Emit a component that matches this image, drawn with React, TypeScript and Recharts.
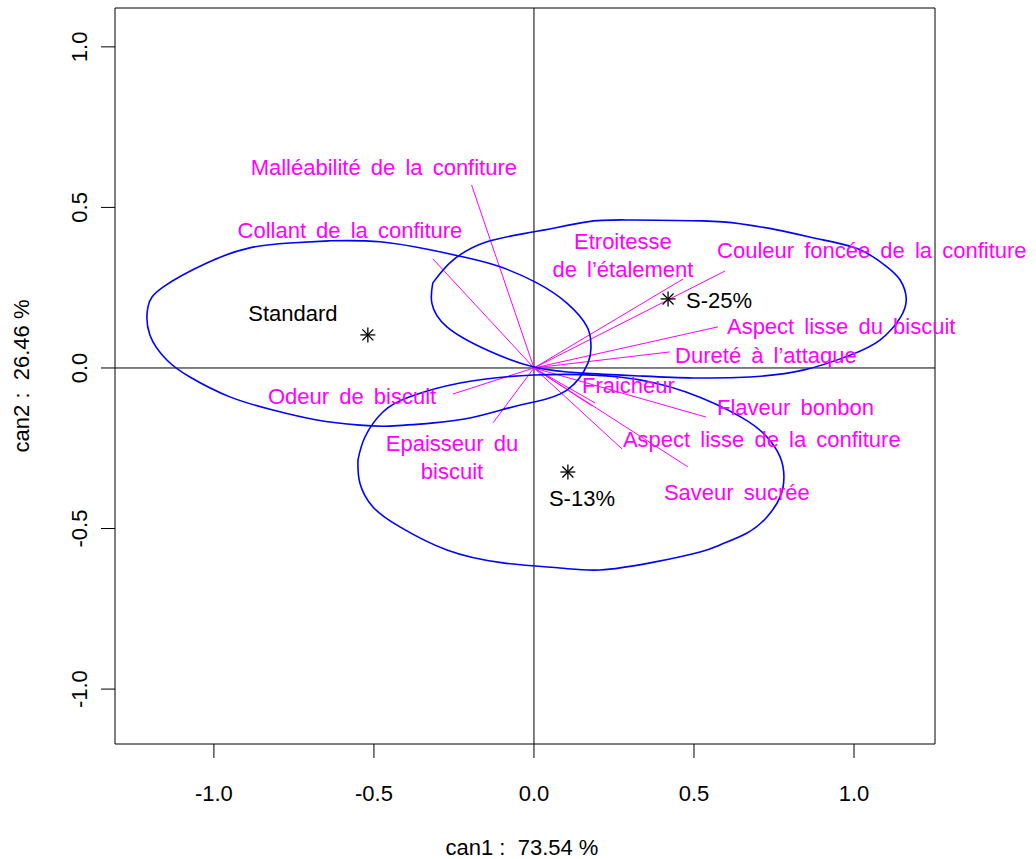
import {
  ComposedChart,
  ReferenceArea,
  ReferenceLine,
  Scatter,
  XAxis,
  YAxis,
} from "recharts";

const FONT = "'Liberation Sans', Arial, Helvetica, sans-serif";
const MAGENTA = "#ff00ff";
const BLUE = "#0000ff";

const xDomain = [-1.309, 1.253];
const yDomain = [-1.171, 1.121];
const xTicks = [-1, -0.5, 0, 0.5, 1];
const yTicks = [-1, -0.5, 0, 0.5, 1];
const xTitle = "can1 :  73.54 %";
const yTitle = "can2 :  26.46 %";

// descripteurs : extrémité des flèches (can1, can2)
const variableNames = [
  "Malléabilité de la confiture",
  "Collant de la confiture",
  "Etroitesse\nde l’étalement",
  "Couleur foncée de la confiture",
  "Aspect lisse du biscuit",
  "Dureté à l’attaque",
  "Fraicheur",
  "",
  "Flaveur bonbon",
  "Aspect lisse de la confiture",
  "Saveur sucrée",
  "Odeur de biscuit",
  "Epaisseur du\nbiscuit",
];
const variableCan1 = [-0.195, -0.316, 0.466, 0.597, 0.575, 0.425, 0.191, 0.181, 0.538, 0.275, 0.481, -0.253, -0.128];
const variableCan2 = [0.57, 0.34, 0.277, 0.302, 0.128, 0.05, -0.109, -0.118, -0.153, -0.252, -0.308, -0.081, -0.171];
// position des étiquettes (coordonnées du graphe)
const variableLabelCan1 = [-0.469, -0.575, 0.278, 0.572, 0.603, 0.441, 0.15, 0, 0.572, 0.278, 0.406, -0.831, -0.256];
const variableLabelCan2 = [0.601, 0.405, 0.371, 0.343, 0.106, 0.016, -0.078, 0, -0.146, -0.246, -0.411, -0.112, -0.259];
const variableLabelAnchor = ["middle", "middle", "middle", "start", "start", "start", "start", "start", "start", "start", "start", "start", "middle"];

// produits
const productNames = ["Standard", "S-25%", "S-13%"];
const productCan1 = [-0.519, 0.419, 0.106];
const productCan2 = [0.103, 0.215, -0.324];
const productLabelCan1 = [-0.753, 0.475, 0.15];
const productLabelCan2 = [0.146, 0.187, -0.43];
const productLabelAnchor = ["middle", "start", "middle"];

// ellipses de confiance (contours relevés)
const ellipseStandard: [number, number][] = [
  [-0.638, 0.396], [-0.481, 0.393], [-0.325, 0.368], [-0.209, 0.343], [-0.106, 0.315],
  [0.009, 0.265], [0.103, 0.202], [0.166, 0.128], [0.178, 0.072], [0.169, 0.016],
  [0.103, -0.069], [0.0, -0.106], [-0.081, -0.125], [-0.2, -0.156], [-0.313, -0.171],
  [-0.45, -0.181], [-0.544, -0.178], [-0.678, -0.162], [-0.816, -0.131], [-0.95, -0.09],
  [-1.075, -0.028], [-1.147, 0.025], [-1.2, 0.103], [-1.206, 0.19], [-1.159, 0.252],
  [-1.022, 0.327], [-0.888, 0.374], [-0.763, 0.389],
];
const ellipseS25: [number, number][] = [
  [-0.316, 0.265], [-0.253, 0.336], [-0.147, 0.393], [0.0, 0.424], [0.166, 0.455],
  [0.291, 0.461], [0.528, 0.458], [0.644, 0.449], [0.759, 0.43], [0.903, 0.399],
  [1.019, 0.368], [1.103, 0.315], [1.144, 0.274], [1.163, 0.218], [1.144, 0.156],
  [1.081, 0.087], [0.988, 0.04], [0.844, -0.006], [0.675, -0.028], [0.497, -0.031],
  [0.331, -0.025], [0.15, -0.016], [0.0, 0.003], [-0.147, 0.056], [-0.272, 0.128],
  [-0.319, 0.202],
];
const ellipseS13: [number, number][] = [
  [-0.55, -0.287], [-0.528, -0.215], [-0.472, -0.137], [-0.388, -0.09], [-0.231, -0.047],
  [0.0, -0.022], [0.266, -0.028], [0.475, -0.075], [0.647, -0.153], [0.728, -0.215],
  [0.769, -0.277], [0.781, -0.34], [0.769, -0.402], [0.728, -0.464], [0.666, -0.514],
  [0.581, -0.551], [0.519, -0.573], [0.363, -0.607], [0.206, -0.629], [0.081, -0.623],
  [-0.097, -0.607], [-0.272, -0.567], [-0.419, -0.495], [-0.503, -0.433], [-0.544, -0.358],
];
const ellipses = [ellipseStandard, ellipseS25, ellipseS13];

const arrows = variableNames.map((name, i) => ({
  name,
  x: variableCan1[i],
  y: variableCan2[i],
}));

const variableLabels = variableNames
  .map((label, i) => ({
    label,
    x: variableLabelCan1[i],
    y: variableLabelCan2[i],
    anchor: variableLabelAnchor[i],
  }))
  .filter((d) => d.label !== "");

const products = productNames.map((name, i) => ({
  name,
  x: productCan1[i],
  y: productCan2[i],
}));

const productLabels = productNames.map((label, i) => ({
  label,
  x: productLabelCan1[i],
  y: productLabelCan2[i],
  anchor: productLabelAnchor[i],
}));

function XTick({ x, y, payload }: any) {
  return (
    <text x={x} y={y + 43} textAnchor="middle" fontSize={22} fontFamily={FONT} fill="#000">
      {Number(payload.value).toFixed(1)}
    </text>
  );
}

function YTick({ x, y, payload }: any) {
  const tx = x - 14;
  return (
    <text
      x={tx}
      y={y}
      transform={`rotate(-90, ${tx}, ${y})`}
      textAnchor="middle"
      fontSize={22}
      fontFamily={FONT}
      fill="#000"
    >
      {Number(payload.value).toFixed(1)}
    </text>
  );
}

function XTitle({ viewBox }: any) {
  const cx = viewBox.x + viewBox.width / 2 - 3;
  return (
    <text
      x={cx}
      y={viewBox.y + 111}
      textAnchor="middle"
      fontSize={22}
      fontFamily={FONT}
      fill="#000"
      style={{ whiteSpace: "pre" }}
    >
      {xTitle}
    </text>
  );
}

function YTitle({ viewBox }: any) {
  const tx = 29;
  const ty = viewBox.y + viewBox.height / 2;
  return (
    <text
      x={tx}
      y={ty}
      transform={`rotate(-90, ${tx}, ${ty})`}
      textAnchor="middle"
      fontSize={22}
      fontFamily={FONT}
      fill="#000"
      style={{ whiteSpace: "pre" }}
    >
      {yTitle}
    </text>
  );
}

function Asterisk({ cx, cy }: any) {
  const r = 7.5;
  const d = 5.5;
  return (
    <g stroke="#000" strokeWidth={1.3}>
      <line x1={cx - r} y1={cy} x2={cx + r} y2={cy} />
      <line x1={cx} y1={cy - r} x2={cx} y2={cy + r} />
      <line x1={cx - d} y1={cy - d} x2={cx + d} y2={cy + d} />
      <line x1={cx - d} y1={cy + d} x2={cx + d} y2={cy - d} />
    </g>
  );
}

function makeLabel(color: string) {
  return function TextLabel({ cx, cy, payload }: any) {
    const lines = String(payload.label).split("\n");
    return (
      <text
        x={cx}
        y={cy}
        textAnchor={payload.anchor}
        fontSize={22}
        fontFamily={FONT}
        fill={color}
        style={{ wordSpacing: "4px" }}
      >
        {lines.map((line, i) => (
          <tspan key={i} x={cx} dy={i === 0 ? 0 : 28}>
            {line}
          </tspan>
        ))}
      </text>
    );
  };
}

const VariableLabel = makeLabel(MAGENTA);
const ProductLabel = makeLabel("#000");
const NoPoint = () => <g />;

export default function App() {
  return (
    <div style={{ width: 1036, height: 859, background: "#fff" }}>
      <style>{"body{margin:0;}"}</style>
      <ComposedChart
        width={1036}
        height={859}
        margin={{ top: 8, right: 101, bottom: 0, left: 0 }}
        style={{ overflow: "visible" }}
      >
        <XAxis
          type="number"
          dataKey="x"
          domain={xDomain}
          ticks={xTicks}
          axisLine={false}
          tickLine={{ stroke: "#000" }}
          tickSize={14}
          tickMargin={0}
          height={115}
          tick={<XTick />}
          label={<XTitle />}
        />
        <YAxis
          type="number"
          dataKey="y"
          domain={yDomain}
          ticks={yTicks}
          axisLine={false}
          tickLine={{ stroke: "#000" }}
          tickSize={14}
          tickMargin={0}
          width={115}
          tick={<YTick />}
          label={<YTitle />}
        />
        <ReferenceArea
          x1={xDomain[0]}
          x2={xDomain[1]}
          y1={yDomain[0]}
          y2={yDomain[1]}
          fill="none"
          stroke="#000"
          strokeWidth={1}
          ifOverflow="visible"
        />
        <ReferenceLine x={0} stroke="#000" strokeWidth={1} />
        <ReferenceLine y={0} stroke="#000" strokeWidth={1} />
        {ellipses.map((pts, i) => (
          <Scatter
            key={`ell-${i}`}
            data={[...pts, pts[0]].map(([x, y]) => ({ x, y }))}
            line={{ stroke: BLUE, strokeWidth: 1.6 }}
            lineJointType="natural"
            shape={NoPoint}
            isAnimationActive={false}
          />
        ))}
        {arrows.map((a, i) => (
          <ReferenceLine
            key={`arr-${i}`}
            segment={[
              { x: 0, y: 0 },
              { x: a.x, y: a.y },
            ]}
            stroke={MAGENTA}
            strokeWidth={1}
            ifOverflow="visible"
          />
        ))}
        <Scatter data={products} shape={Asterisk} isAnimationActive={false} />
        <Scatter data={variableLabels} shape={VariableLabel} isAnimationActive={false} />
        <Scatter data={productLabels} shape={ProductLabel} isAnimationActive={false} />
      </ComposedChart>
    </div>
  );
}
